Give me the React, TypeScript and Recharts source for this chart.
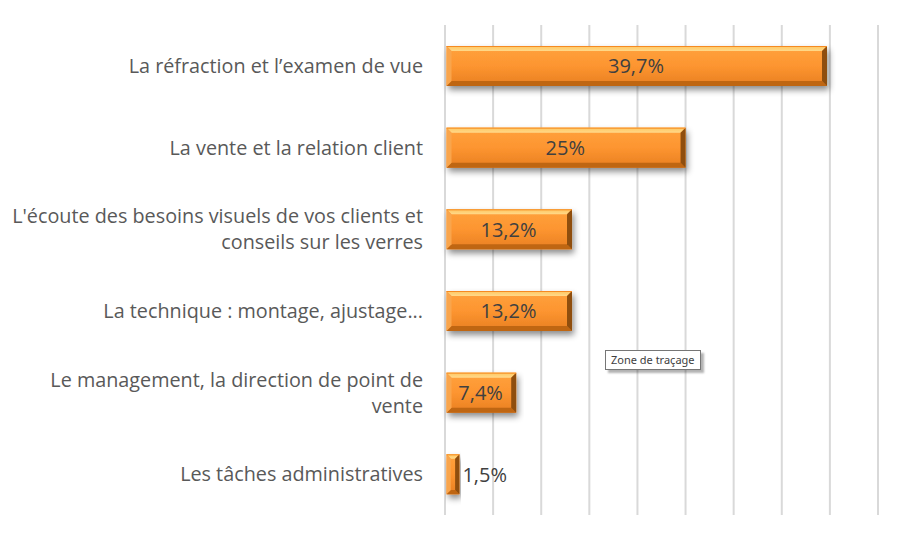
import React from 'react';
import { BarChart, Bar, XAxis, YAxis, CartesianGrid, LabelList } from 'recharts';

const categories = [
  'La réfraction et l\u2019examen de vue',
  'La vente et la relation client',
  'L\'écoute des besoins visuels de vos clients et\nconseils sur les verres',
  'La technique : montage, ajustage...',
  'Le management, la direction de point de\nvente',
  'Les tâches administratives',
];
const shares = [39.7, 25, 13.2, 13.2, 7.4, 1.5];
const xTicks = [0, 5, 10, 15, 20, 25, 30, 35, 40, 45];

const data = categories.map((name, i) => ({ name, value: shares[i] }));

const FONT = '"Open Sans", sans-serif';
const fmt = (v: number) => `${String(v).replace('.', ',')}%`;

function CategoryTick(props: any) {
  const { y, payload } = props;
  const lines = String(payload.value).split('\n');
  const lh = 26;
  const start = y - ((lines.length - 1) * lh) / 2;
  return (
    <text textAnchor="end" fill="#595959" fontFamily={FONT} fontSize={19.8}>
      {lines.map((l, i) => (
        <tspan key={i} x={423} y={start + i * lh} dy="0.36em">
          {l}
        </tspan>
      ))}
    </text>
  );
}

function BevelBar(props: any) {
  const { x, y, width, height } = props;
  if (!width || width <= 0) return null;
  const x0 = x + 1.5;
  const w = width - 1.5;
  const b = Math.min(5, w / 3);
  const r = x0 + w;
  const btm = y + height;
  return (
    <g>
      <rect x={x0} y={y} width={w} height={height} fill="url(#barGrad)" filter="url(#barShadow)" />
      <polygon points={`${x0},${y} ${r},${y} ${r - b},${y + b} ${x0 + b},${y + b}`} fill="url(#topBevel)" />
      <polygon points={`${x0},${btm} ${r},${btm} ${r - b},${btm - b} ${x0 + b},${btm - b}`} fill="#bf6612" />
      <polygon points={`${x0},${y} ${x0 + b},${y + b} ${x0 + b},${btm - b} ${x0},${btm}`} fill="#f9a54c" />
      <polygon points={`${r},${y} ${r - b},${y + b} ${r - b},${btm - b} ${r},${btm}`} fill="#8f4e0e" />
      <line x1={x0} y1={y + 0.5} x2={r} y2={y + 0.5} stroke="#f58a22" strokeWidth={1} />
    </g>
  );
}

function ValueLabel(props: any) {
  const { x, y, width, height, value } = props;
  const inside = width > 50;
  return (
    <text
      x={inside ? x + width / 2 : x + width + 3}
      y={y + height / 2}
      dy="0.36em"
      textAnchor={inside ? 'middle' : 'start'}
      fill="#404040"
      fontFamily={FONT}
      fontSize={20}
    >
      {fmt(value)}
    </text>
  );
}

export default function App() {
  return (
    <div style={{ position: 'relative', width: 902, height: 539, background: '#fff' }}>
      <style>{'body{margin:0}'}</style>
      <BarChart
        width={902}
        height={539}
        data={data}
        layout="vertical"
        margin={{ top: 25, right: 24, bottom: 24, left: 0 }}
        barSize={40}
      >
        <defs>
          <linearGradient id="barGrad" x1="0" y1="0" x2="0" y2="1">
            <stop offset="0%" stopColor="#ffa23e" />
            <stop offset="50%" stopColor="#fd9530" />
            <stop offset="100%" stopColor="#e87f22" />
          </linearGradient>
          <linearGradient id="topBevel" x1="0" y1="0" x2="0" y2="1">
            <stop offset="0%" stopColor="#ffc660" />
            <stop offset="100%" stopColor="#ffd98a" />
          </linearGradient>
          <filter id="barShadow" x="-10%" y="-30%" width="120%" height="170%">
            <feDropShadow dx="2" dy="4" stdDeviation="3" floodColor="#000" floodOpacity="0.45" />
          </filter>
        </defs>
        <CartesianGrid horizontal={false} stroke="#d9d9d9" strokeWidth={2} />
        <XAxis type="number" domain={[0, 45]} ticks={xTicks} hide />
        <YAxis
          type="category"
          dataKey="name"
          width={445}
          axisLine={false}
          tickLine={false}
          tick={<CategoryTick />}
        />
        <Bar dataKey="value" shape={<BevelBar />} isAnimationActive={false}>
          <LabelList dataKey="value" content={<ValueLabel />} />
        </Bar>
      </BarChart>
      <div
        style={{
          position: 'absolute',
          left: 605,
          top: 350,
          padding: '1px 5px',
          background: '#fff',
          border: '1px solid #767676',
          boxShadow: '3px 3px 2px rgba(0,0,0,0.3)',
          fontFamily: '"Noto Sans", sans-serif',
          fontSize: 11,
          color: '#404040',
          lineHeight: '16px',
          whiteSpace: 'nowrap',
        }}
      >
        Zone de traçage
      </div>
    </div>
  );
}
